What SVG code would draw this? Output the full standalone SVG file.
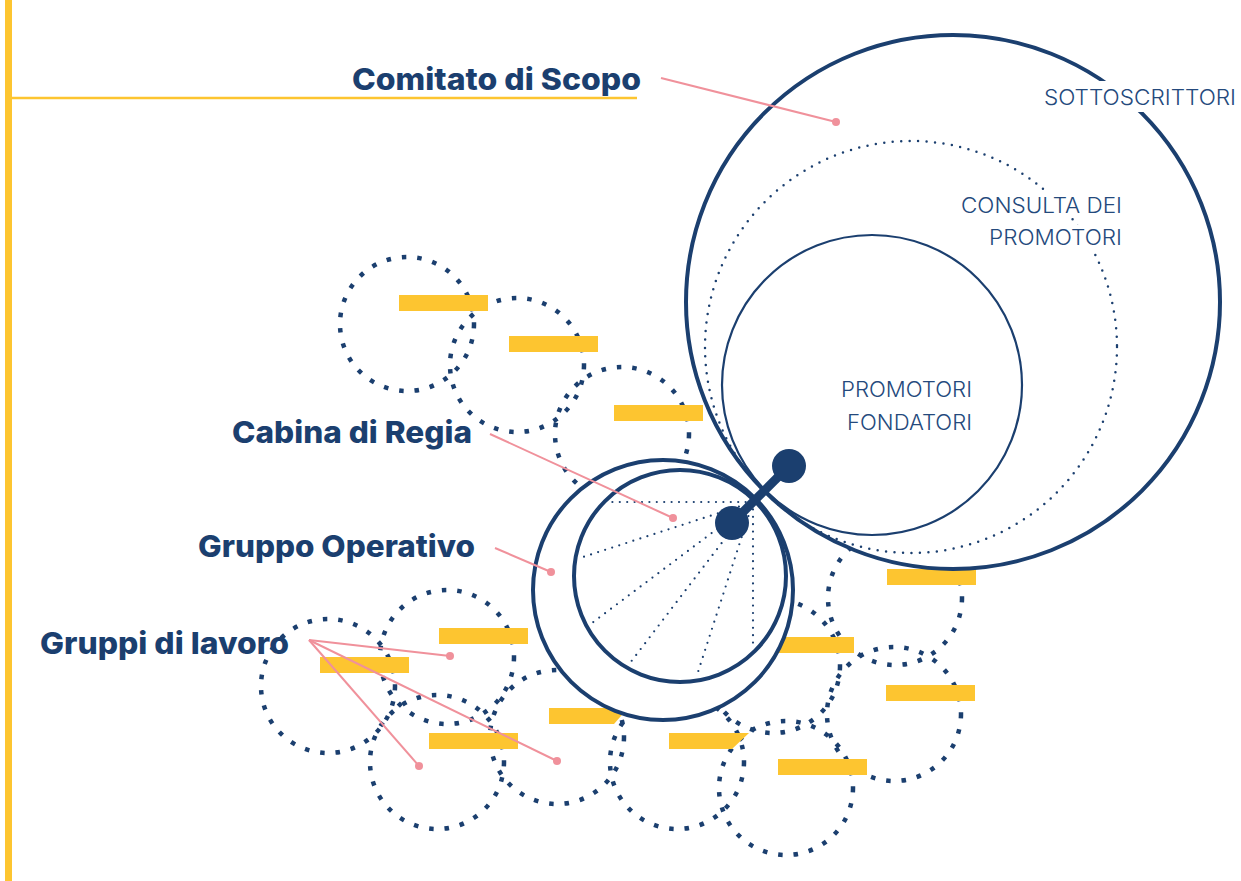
<svg xmlns="http://www.w3.org/2000/svg" width="1241" height="881" viewBox="0 0 1241 881">
<defs>
<style>
.sq{fill:none;stroke:#1b3f6f;stroke-width:4.5;stroke-dasharray:4.5 11}
.bar{fill:#fdc530}
.solid{fill:#fff;stroke:#1b3f6f;stroke-width:4}
.thin{fill:none;stroke:#1b3f6f;stroke-width:2.2}
.dots{fill:none;stroke:#1b3f6f;stroke-width:2.5;stroke-linecap:round;stroke-dasharray:0 8.5}
.spoke{fill:none;stroke:#1b3f6f;stroke-width:2.2;stroke-linecap:round;stroke-dasharray:0 7.4}
.lead{fill:none;stroke:#f0919b;stroke-width:2}
.pdot{fill:#f0919b}
.lbl{font-family:Inter,"Open Sans","Liberation Sans",sans-serif;font-weight:800;font-size:30px;fill:#1b3f6f}
.lt{font-family:Inter,"Open Sans","Liberation Sans",sans-serif;font-weight:300;font-size:21px;fill:#24497c}
</style>
</defs>
<rect width="1241" height="881" fill="#fff"/>
<g id="frame">
<rect x="5" y="0" width="7" height="881" fill="#fdc530"/>
<line x1="12" y1="98" x2="637" y2="98" stroke="#fdc530" stroke-width="2.5"/>
</g>
<g id="gruppi-di-lavoro">
<g id="g-circles">
<circle class="sq" cx="407" cy="324" r="67"/>
<circle class="sq" cx="517" cy="365" r="67"/>
<circle class="sq" cx="622" cy="434" r="67"/>
<circle class="sq" cx="328" cy="686" r="67"/>
<circle class="sq" cx="447" cy="657" r="67"/>
<circle class="sq" cx="437" cy="762" r="67"/>
<circle class="sq" cx="557" cy="737" r="67"/>
<circle class="sq" cx="677" cy="762" r="67"/>
<circle class="sq" cx="786" cy="788" r="67"/>
<circle class="sq" cx="773" cy="666" r="67"/>
<circle class="sq" cx="894" cy="714" r="67"/>
<circle class="sq" cx="895" cy="598" r="67"/>
</g>
<g id="g-bars">
<rect class="bar" x="399" y="295" width="89" height="16"/>
<rect class="bar" x="509" y="336" width="89" height="16"/>
<rect class="bar" x="614" y="405" width="89" height="16"/>
<rect class="bar" x="320" y="657" width="89" height="16"/>
<rect class="bar" x="439" y="628" width="89" height="16"/>
<rect class="bar" x="429" y="733" width="89" height="16"/>
<polygon class="bar" points="549,708 628,708 614,724 549,724"/>
<polygon class="bar" points="669,733 749,733 732,749 669,749"/>
<rect class="bar" x="778" y="759" width="89" height="16"/>
<rect class="bar" x="765" y="637" width="89" height="16"/>
<rect class="bar" x="886" y="685" width="89" height="16"/>
<rect class="bar" x="887" y="569" width="89" height="16"/>
</g>
</g>
<g id="sottoscrittori">
<circle class="solid" cx="953" cy="302" r="267"/>
<rect x="1038" y="81" width="203" height="31" fill="#fff"/>
<text class="lt" x="1236" y="105" text-anchor="end" textLength="192" lengthAdjust="spacingAndGlyphs">SOTTOSCRITTORI</text>
</g>
<g id="consulta">
<circle class="dots" cx="911" cy="347" r="206"/>
<rect x="955" y="191" width="173" height="27" fill="#fff"/>
<rect x="983" y="225" width="145" height="26" fill="#fff"/>
<text class="lt" x="1122" y="213" text-anchor="end" textLength="161" lengthAdjust="spacingAndGlyphs">CONSULTA DEI</text>
<text class="lt" x="1122" y="245" text-anchor="end" textLength="133" lengthAdjust="spacingAndGlyphs">PROMOTORI</text>
</g>
<g id="promotori-fondatori">
<circle class="thin" cx="872" cy="385" r="150"/>
<text class="lt" x="972" y="397" text-anchor="end" textLength="131" lengthAdjust="spacingAndGlyphs">PROMOTORI</text>
<text class="lt" x="972" y="430" text-anchor="end" textLength="125" lengthAdjust="spacingAndGlyphs">FONDATORI</text>
</g>
<g id="gruppo-operativo">
<circle class="solid" cx="663" cy="590" r="130"/>
</g>
<g id="cabina-di-regia">
<circle class="solid" cx="680" cy="576" r="106"/>
<g id="spokes">
<line class="spoke" x1="753" y1="502" x2="608" y2="502"/>
<line class="spoke" x1="753" y1="502" x2="583" y2="557"/>
<line class="spoke" x1="753" y1="502" x2="592" y2="623"/>
<line class="spoke" x1="753" y1="502" x2="630" y2="663"/>
<line class="spoke" x1="753" y1="502" x2="698" y2="672"/>
<line class="spoke" x1="753" y1="502" x2="753" y2="647"/>
</g>
</g>
<g id="dumbbell">
<line x1="732" y1="523" x2="789" y2="466" stroke="#1b3f6f" stroke-width="9"/>
<circle cx="732" cy="523" r="17" fill="#1b3f6f"/>
<circle cx="789" cy="466" r="17" fill="#1b3f6f"/>
</g>
<g id="connectors">
<line class="lead" x1="661" y1="78" x2="836" y2="122"/>
<circle class="pdot" cx="836" cy="122" r="4"/>
<line class="lead" x1="490" y1="434" x2="673" y2="518"/>
<circle class="pdot" cx="673" cy="518" r="4"/>
<line class="lead" x1="495" y1="548" x2="551" y2="572"/>
<circle class="pdot" cx="551" cy="572" r="4"/>
<line class="lead" x1="309" y1="640" x2="450" y2="656"/>
<line class="lead" x1="309" y1="640" x2="419" y2="766"/>
<line class="lead" x1="309" y1="640" x2="557" y2="761"/>
<circle class="pdot" cx="450" cy="656" r="4"/>
<circle class="pdot" cx="419" cy="766" r="4"/>
<circle class="pdot" cx="557" cy="761" r="4"/>
</g>
<g id="labels">
<text class="lbl" x="641" y="90" text-anchor="end" textLength="289" lengthAdjust="spacingAndGlyphs">Comitato di Scopo</text>
<text class="lbl" x="472" y="443" text-anchor="end" textLength="240" lengthAdjust="spacingAndGlyphs">Cabina di Regia</text>
<text class="lbl" x="475" y="557" text-anchor="end" textLength="277" lengthAdjust="spacingAndGlyphs">Gruppo Operativo</text>
<text class="lbl" x="40" y="654" textLength="249" lengthAdjust="spacingAndGlyphs">Gruppi di lavoro</text>
</g>
</svg>
